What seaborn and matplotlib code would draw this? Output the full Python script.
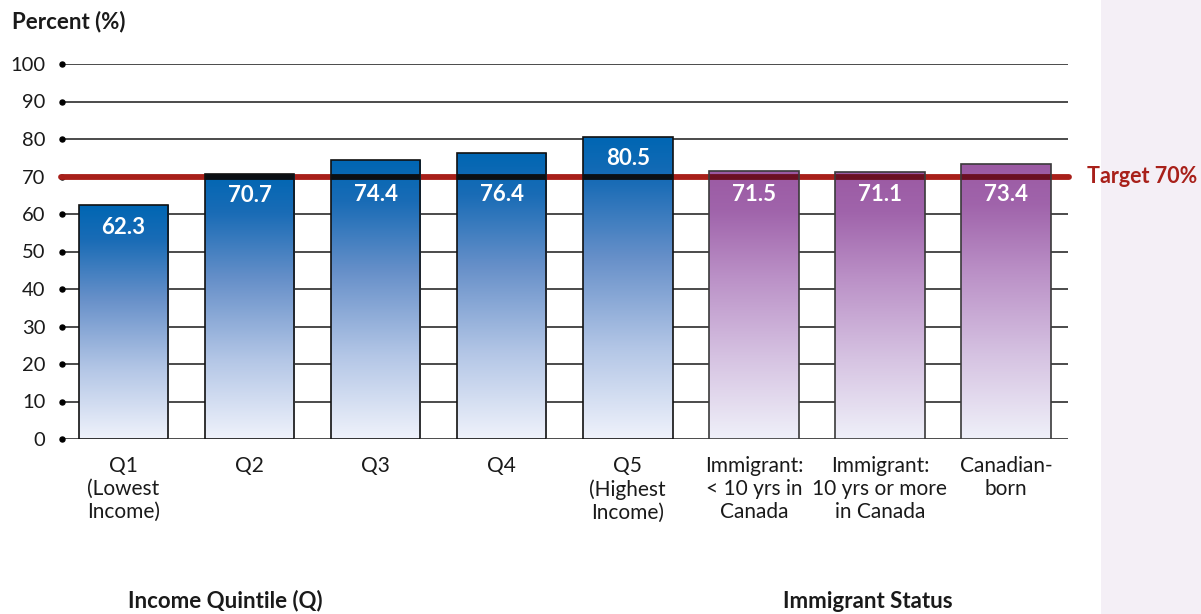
import numpy as np
import pandas as pd
import matplotlib
matplotlib.use("Agg")
import matplotlib.pyplot as plt
from matplotlib.colors import LinearSegmentedColormap
from matplotlib.patches import Rectangle
import seaborn as sns

# Share of people (%) by income quintile and immigrant status
categories = ["Q1", "Q2", "Q3", "Q4", "Q5", "Imm<10", "Imm10+", "CanBorn"]
tick_labels = ["Q1\n(Lowest\nIncome)", "Q2", "Q3", "Q4", "Q5\n(Highest\nIncome)",
               "Immigrant:\n< 10 yrs in\nCanada", "Immigrant:\n10 yrs or more\nin Canada",
               "Canadian-\nborn"]
values = [62.3, 70.7, 74.4, 76.4, 80.5, 71.5, 71.1, 73.4]
groups = ["income"] * 5 + ["immigrant"] * 3
target = 70
y_ticks = [0, 10, 20, 30, 40, 50, 60, 70, 80, 90, 100]

df = pd.DataFrame({"category": categories, "value": values, "group": groups})

sns.set_theme(style="white")
plt.rcParams["font.family"] = ["Lato", "DejaVu Sans"]

W, H = 1201, 614
fig = plt.figure(figsize=(W / 100, H / 100), dpi=100)
fig.patch.set_facecolor("white")
# light side panel on the right
fig.patches.append(Rectangle((1101 / W, 0), 1 - 1101 / W, 1, transform=fig.transFigure,
                             facecolor="#f4eff6", edgecolor="none", zorder=-10))

ax = fig.add_axes([62 / W, 1 - 439 / H, (1068 - 62) / W, (439 - 64) / H])
ax.set_facecolor("none")

sns.barplot(data=df, x="category", y="value", hue="category", palette=["white"] * len(df),
            order=categories, width=0.71, legend=False, ax=ax, zorder=2)

ax.set_xlim(-0.488, 7.492)
ax.set_ylim(0, 100)
for s in ax.spines.values():
    s.set_visible(False)

# horizontal gridlines with dot markers at the left end
for yv in y_ticks:
    ax.axhline(yv, color="#1a1a1a", lw=1.1, zorder=1)
ax.plot([ax.get_xlim()[0]] * len(y_ticks), y_ticks, "o", color="black", ms=3.6,
        clip_on=False, zorder=3)

ax.set_yticks(y_ticks)
ax.set_yticklabels([str(v) for v in y_ticks], fontsize=14.5, color="#1a1a1a")
ax.tick_params(axis="y", length=0, pad=12)
ax.set_xticks(range(len(categories)))
ax.set_xticklabels(tick_labels, fontsize=15, color="#1a1a1a", linespacing=1.2)
ax.tick_params(axis="x", length=0, pad=12)
ax.set_xlabel("")
ax.set_ylabel("")

blue_cmap = LinearSegmentedColormap.from_list(
    "blue", [(0, "#eff2fb"), (0.3, "#b3c6e6"), (0.6, "#6790c9"), (0.85, "#1a6cb6"), (1, "#0066b3")])
purple_cmap = LinearSegmentedColormap.from_list(
    "purple", [(0, "#eff0f9"), (0.3, "#d6c3e2"), (0.6, "#bb91c7"), (0.85, "#a064ab"), (1, "#9b5aa3")])

grad = np.linspace(0, 1, 256).reshape(-1, 1)

# red target line across the plot
ax.plot([ax.get_xlim()[0] - 0.01, ax.get_xlim()[1] + 0.01], [target, target], color="#a8201a",
        lw=4.2, solid_capstyle="round", clip_on=False, zorder=4)

label_drop = 5.8      # label centre below bar top (data units)
line_clear = 4.8      # label centre below target line when crowded

for patch, val, grp in zip(ax.patches, values, groups):
    x0, w = patch.get_x(), patch.get_width()
    cmap = blue_cmap if grp == "income" else purple_cmap
    edge = "#111111" if grp == "income" else "#3a3a3a"
    patch.set_facecolor("none")
    patch.set_edgecolor(edge)
    patch.set_linewidth(1.2)
    patch.set_zorder(6)
    img = ax.imshow(grad, cmap=cmap, origin="lower", aspect="auto",
                    extent=[x0, x0 + w, 0, val], zorder=5, interpolation="bicubic")
    img.set_clip_path(patch)
    if val > target:
        # target line seen through the bar
        line_col = "#0b0f14" if grp == "income" else "#6a1022"
        ax.plot([x0, x0 + w], [target, target], color=line_col, lw=4.2, solid_capstyle="butt",
                zorder=5.5)
    ly = val - label_drop
    if not (ly - 3 > target):
        ly = min(ly, target - line_clear)
    ax.text(x0 + w / 2, ly, f"{val:.1f}", ha="center", va="center", fontsize=16,
            fontweight="bold", color="white", zorder=7)

ax.annotate("Target 70%", xy=(1, target), xycoords=ax.get_yaxis_transform(),
            xytext=(13.5, 0), textcoords="offset points", ha="left", va="center",
            fontsize=15.5, fontweight="bold", color="#a8201a", annotation_clip=False)

fig.text(12 / W, 1 - 22 / H, "Percent (%)", ha="left", va="center", fontsize=16,
         fontweight="bold", color="#1a1a1a")
fig.text(225 / W, 1 - 601 / H, "Income Quintile (Q)", ha="center", va="center", fontsize=16,
         fontweight="bold", color="#1a1a1a")
fig.text(868 / W, 1 - 601 / H, "Immigrant Status", ha="center", va="center", fontsize=16,
         fontweight="bold", color="#1a1a1a")

fig.savefig("out.png", dpi=100)
